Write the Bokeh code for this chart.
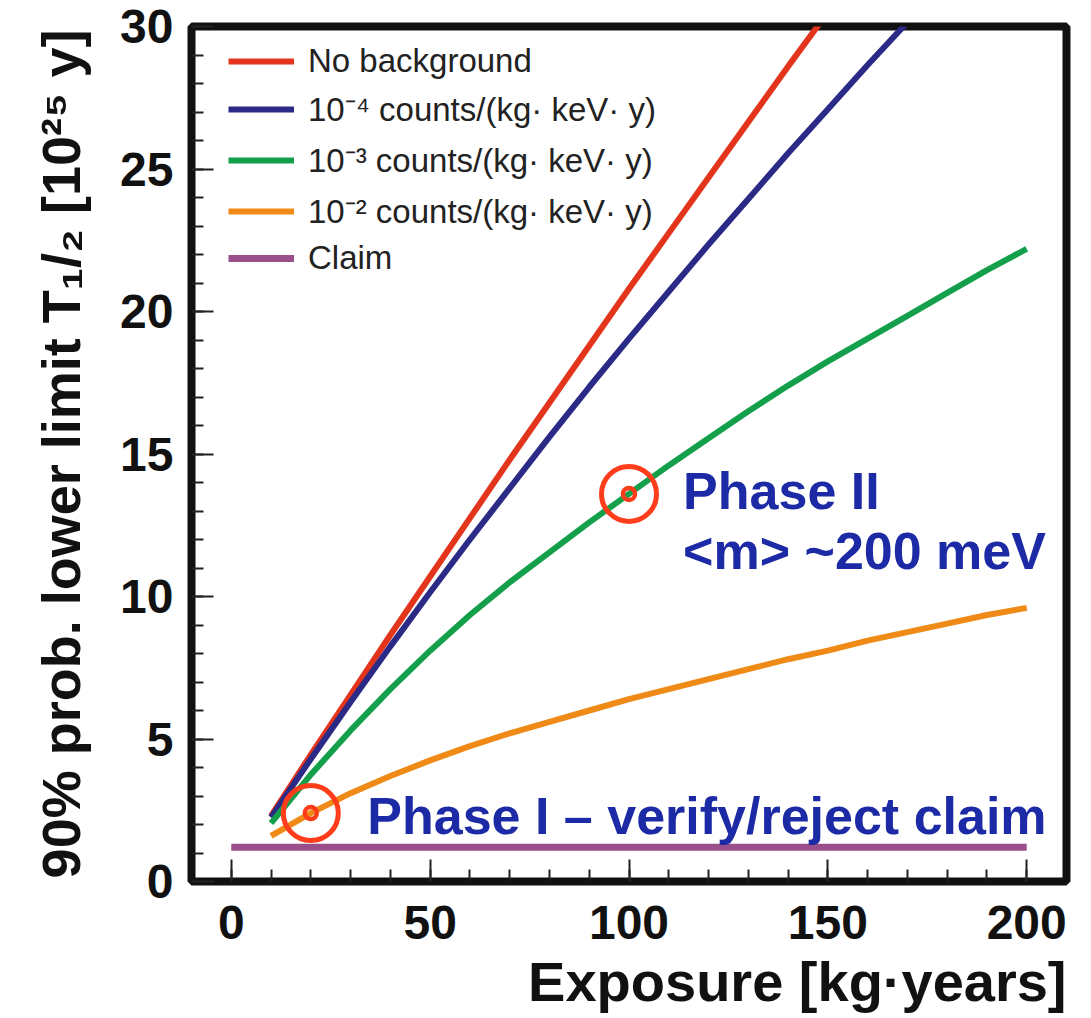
from bokeh.plotting import figure
from bokeh.models import FixedTicker, Label, Title
from bokeh.embed import file_html
from bokeh.resources import INLINE

# ---------------- data ----------------
exposure = [10, 20, 30, 40, 50, 60, 70, 80, 90, 100, 110, 120, 130, 140, 150, 160, 170, 180, 190, 200]
no_background = [2.3, 4.45, 6.55, 8.65, 10.7, 12.75, 14.8, 16.8, 18.8, 20.8, 22.75, 24.7, 26.65, 28.6, 30.5, 32.4, 34.3, 36.2, 38.1, 40.0]
bkg_1e4 = [2.25, 4.3, 6.3, 8.25, 10.15, 12.0, 13.8, 15.6, 17.35, 19.05, 20.7, 22.35, 23.95, 25.55, 27.1, 28.65, 30.15, 31.6, 33.0, 34.4]
bkg_1e3 = [2.05, 3.75, 5.3, 6.75, 8.1, 9.35, 10.5, 11.55, 12.6, 13.6, 14.6, 15.55, 16.5, 17.4, 18.25, 19.05, 19.85, 20.65, 21.45, 22.2]
bkg_1e2 = [1.6, 2.4, 3.1, 3.7, 4.25, 4.75, 5.2, 5.6, 6.0, 6.4, 6.75, 7.1, 7.45, 7.8, 8.1, 8.45, 8.75, 9.05, 9.35, 9.6]
claim_x = [0, 200]
claim_y = [1.2, 1.2]
phase_x = [20, 100]
phase_y = [2.4, 13.6]

series_labels = [
    "No background",
    "10\u207b\u2074 counts/(kg\u00b7 keV\u00b7 y)",
    "10\u207b\u00b3 counts/(kg\u00b7 keV\u00b7 y)",
    "10\u207b\u00b2 counts/(kg\u00b7 keV\u00b7 y)",
    "Claim",
]
x_major_ticks = [0, 50, 100, 150, 200]
x_minor_ticks = list(range(0, 201, 10))
y_major_ticks = [0, 5, 10, 15, 20, 25, 30]
y_minor_ticks = list(range(0, 31, 1))

x_title = "Exposure [kg\u00b7years]"
y_title = "90% prob. lower limit T\u2081/\u2082 [10\u00b2\u2075 y]"
phase1_text = "Phase I \u2013 verify/reject claim"
phase2_text = "Phase II"
phase2_sub = "<m> ~200 meV"

# ---------------- style ----------------
FONT = "Liberation Sans"
C_RED = "#e3341c"
C_BLUE = "#2b2a86"
C_GREEN = "#14a04b"
C_ORANGE = "#ef8a17"
C_PURPLE = "#9a4f8b"
C_RING = "#ff3d1a"
C_TEXT = "#1c2aa6"

p = figure(
    width=1091, height=1018,
    x_range=(-10, 210), y_range=(0, 30),
    min_border_left=191, min_border_right=25,
    min_border_top=26, min_border_bottom=134,
    output_backend="svg", toolbar_location=None,
    background_fill_color="white", border_fill_color="white",
)
p.grid.visible = False
p.outline_line_color = "#111111"
p.outline_line_width = 8

LW = 6
p.line(exposure, no_background, line_color=C_RED, line_width=LW, legend_label=series_labels[0])
p.line(exposure, bkg_1e4, line_color=C_BLUE, line_width=LW, legend_label=series_labels[1])
p.line(exposure, bkg_1e3, line_color=C_GREEN, line_width=LW, legend_label=series_labels[2])
p.line(exposure, bkg_1e2, line_color=C_ORANGE, line_width=LW, legend_label=series_labels[3])
p.line(claim_x, claim_y, line_color=C_PURPLE, line_width=7, legend_label=series_labels[4])

# target rings
p.scatter(phase_x, phase_y, marker="circle", size=55, fill_color=None, line_color=C_RING, line_width=5)
p.scatter(phase_x, phase_y, marker="circle", size=12, fill_color=None, line_color=C_RING, line_width=4.5)

# axes
for ax in (p.xaxis[0], p.yaxis[0]):
    ax.axis_line_color = None
    ax.major_tick_in = 22
    ax.major_tick_out = 0
    ax.minor_tick_in = 12
    ax.minor_tick_out = 0
    ax.major_tick_line_color = "#222222"
    ax.minor_tick_line_color = "#222222"
    ax.major_tick_line_width = 2
    ax.minor_tick_line_width = 2
    ax.major_label_text_font = FONT
    ax.major_label_text_font_style = "bold"
    ax.major_label_text_font_size = "48px"
    ax.major_label_text_color = "#111111"

p.xaxis[0].ticker = FixedTicker(ticks=x_major_ticks, minor_ticks=x_minor_ticks)
p.yaxis[0].ticker = FixedTicker(ticks=y_major_ticks, minor_ticks=y_minor_ticks)
p.xaxis[0].major_label_standoff = 24
p.yaxis[0].major_label_standoff = 18

p.yaxis[0].axis_label = y_title
p.yaxis[0].axis_label_text_font = FONT
p.yaxis[0].axis_label_text_font_style = "bold"
p.yaxis[0].axis_label_text_font_size = "54px"
p.yaxis[0].axis_label_text_color = "#111111"
p.yaxis[0].axis_label_standoff = 26

# x-axis title, right-aligned under the frame
p.add_layout(Title(text=x_title, align="right", text_font=FONT, text_font_style="bold",
                   text_font_size="56px", text_color="#111111", standoff=12), "below")

# annotations
p.add_layout(Label(x=34.2, y=2.3, text=phase1_text, text_align="left", text_baseline="alphabetic",
                   text_font=FONT, text_font_style="bold", text_font_size="52px", text_color=C_TEXT))
p.add_layout(Label(x=113.6, y=13.7, text=phase2_text, text_align="left", text_baseline="alphabetic",
                   text_font=FONT, text_font_style="bold", text_font_size="52px", text_color=C_TEXT))
p.add_layout(Label(x=113.6, y=11.6, text=phase2_sub, text_align="left", text_baseline="alphabetic",
                   text_font=FONT, text_font_style="bold", text_font_size="52px", text_color=C_TEXT))

# legend
lg = p.legend[0]
lg.location = (37, 604)
lg.padding = 0
lg.margin = 0
lg.spacing = 6
lg.label_height = 36
lg.glyph_height = 36
lg.glyph_width = 66
lg.label_standoff = 14
lg.border_line_color = None
lg.background_fill_alpha = 0
lg.label_text_font = FONT
lg.label_text_font_size = "33px"
lg.label_text_color = "#222222"

open("out.html", "w").write(file_html(p, INLINE))
